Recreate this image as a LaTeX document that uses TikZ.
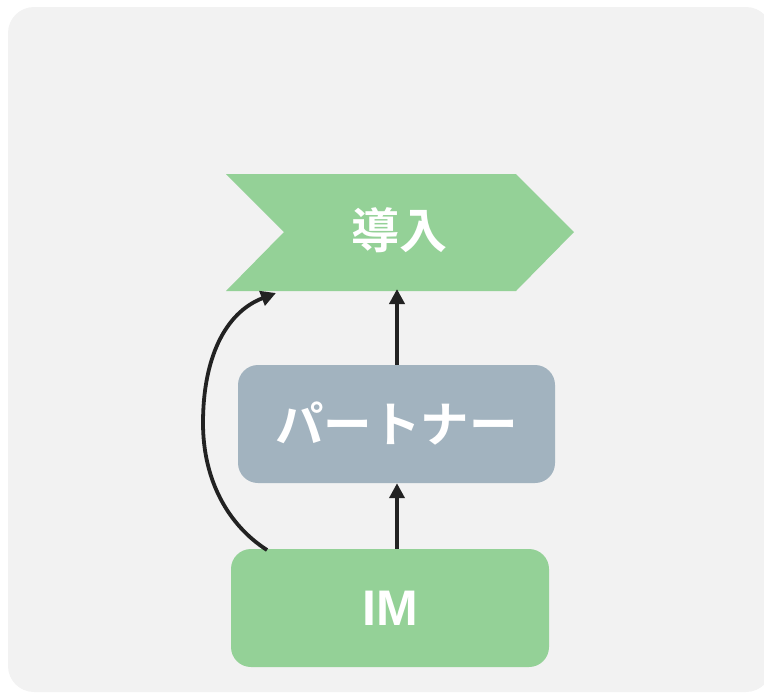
\documentclass[tikz,border=0pt]{standalone}
\usepackage{fontspec}
\newfontfamily\cjkb{Noto Sans CJK JP Bold}
\newfontfamily\latb{Liberation Sans Bold}
\usetikzlibrary{arrows.meta,calc}
\definecolor{bgc}{HTML}{F2F2F2}
\definecolor{greenc}{HTML}{94D197}
\definecolor{bluec}{HTML}{A2B3BF}
\definecolor{arrc}{HTML}{222222}
\tikzset{
  box/.style={rectangle, rounded corners=20pt, minimum width=317pt, minimum height=118pt, inner sep=0pt, text=white},
  lbl/.style={text=white, inner sep=0pt},
  arr/.style={draw=arrc, line width=3.8pt, -{Triangle[length=15pt,width=15pt]}}
}
\begin{document}
\begin{tikzpicture}[x=1pt,y=-1pt]
\useasboundingbox (0,0) rectangle (764,694);
\fill[bgc, rounded corners=26pt] (8,7) rectangle (772,692);
% chevron
\fill[greenc] (226,174) -- (516,174) -- (574,232) -- (516,291) -- (226,291) -- (284,232) -- cycle;
\node[lbl, font=\cjkb\fontsize{48}{52}\selectfont] (intro) at (399,230) {導入};
\coordinate (introbot) at (397,289);
\coordinate (introleft) at (276,293);
\node[box, fill=bluec, font=\cjkb\fontsize{48.5}{52}\selectfont] (partner) at (396.5,424) {パートナー};
\node[box, fill=greenc, minimum width=318pt, font=\latb\fontsize{50}{54}\selectfont] (im) at (390,608) {IM};
\coordinate (imstart) at (267,550);
\draw[arr] (partner.north -| introbot) -- (introbot);
\draw[arr] (im.north -| introbot) -- (partner.south -| introbot);
\draw[arr] (imstart) .. controls (228,525) and (203,480) .. (203,423)
  .. controls (203,360) and (224,313) .. (introleft);
\end{tikzpicture}
\end{document}
